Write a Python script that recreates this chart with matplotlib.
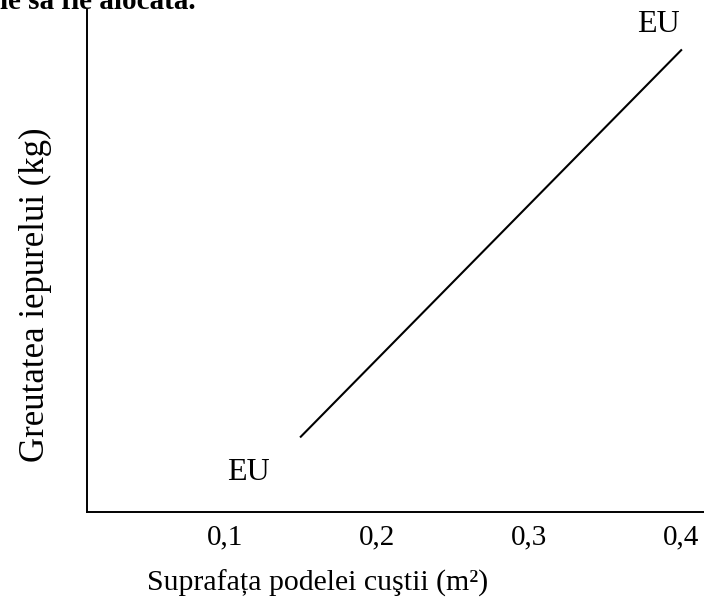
import matplotlib.pyplot as plt

plt.rcParams['font.family'] = ['Liberation Serif', 'DejaVu Serif']

# data (y axis has no scale, so values are relative)
surface_m2 = [0.15, 0.40]
weight_rel = [0.15, 0.92]
tick_vals = [0.1, 0.2, 0.3, 0.4]
tick_labels = ['0,1', '0,2', '0,3', '0,4']
eu_labels = [(0.1155, 0.078, 'EU'), (0.385, 0.972, 'EU')]

fig = plt.figure(figsize=(7.04, 6.03), dpi=100)
ax = fig.add_axes([0.1236, 0.1509, 0.8764, 0.8325])

ax.plot(surface_m2, weight_rel, color='black', lw=1.5)
for x, y, s in eu_labels:
    ax.text(x, y, s, fontsize=23, ha='center', va='center')

ax.set_xlim(0.0095, 0.415)
ax.set_ylim(0, 1)
ax.set_xticks(tick_vals)
ax.set_xticklabels(tick_labels, fontsize=21)
ax.set_yticks([])
ax.tick_params(axis='x', length=0, pad=9)
for side in ['top', 'right']:
    ax.spines[side].set_visible(False)
for side in ['left', 'bottom']:
    ax.spines[side].set_linewidth(1.4)

ax.set_xlabel('Suprafața podelei cuştii (m²)', fontsize=21.5)
ax.xaxis.set_label_coords(0.374, -0.114)
ax.set_ylabel('Greutatea iepurelui (kg)', fontsize=25)
ax.yaxis.set_label_coords(-0.057, 0.432)

# line of text from the page above the chart, clipped by the scan
fig.text(0.0, 0.997, 'ie să fie alocată.', fontsize=21, fontweight='bold',
         ha='left', va='center')

fig.savefig('out.png', dpi=100)
